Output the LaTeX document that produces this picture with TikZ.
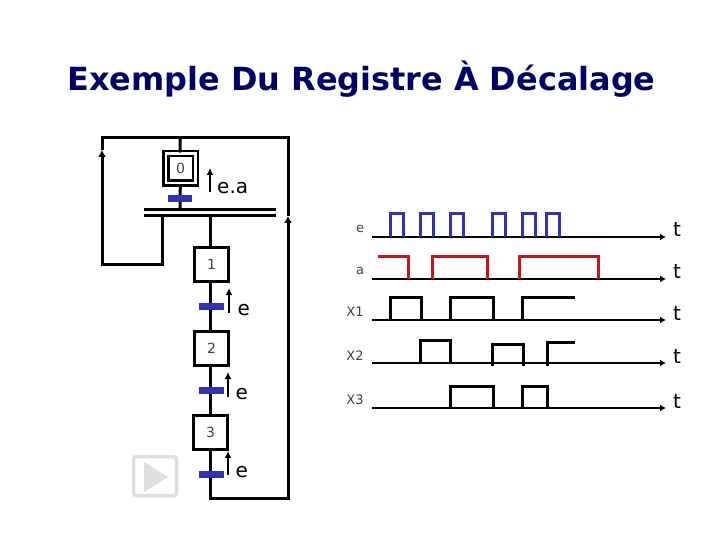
\documentclass[tikz,border=0pt]{standalone}
\usepackage{fontspec}
\setmainfont{DejaVu Sans}
\usetikzlibrary{calc,arrows.meta}
\definecolor{titleblue}{RGB}{0,0,102}
\definecolor{barblue}{RGB}{51,51,176}
\definecolor{sigred}{RGB}{204,20,28}
\definecolor{playgray}{RGB}{222,222,222}
\def\Pulse#1#2#3#4{%xup xdown ybase ytop
    (#1, #3) -- (#1, #4) -- (#2, #4) -- (#2, #3)
}
\tikzset{
    stepbox/.style={draw, line width=3pt, minimum size=34pt, inner sep=0, font=\fontsize{14}{16}\selectfont, text=black!75},
    bar/.style={fill=barblue, minimum width=24.5pt, minimum height=7pt, inner sep=0},
    link/.style={line width=3pt},
    linkhead/.style={line width=3pt, -{Latex[length=7pt, width=8pt]}},
    recep/.style={line width=2pt, -{Latex[length=7pt, width=7pt]}},
    axis/.style={line width=2pt, -{Latex[length=6pt, width=7pt]}},
    sig/.style={line width=3pt},
    siglabel/.style={font=\fontsize{13}{15}\selectfont, text=black!75},
    tlabel/.style={font=\fontsize{20}{24}\selectfont},
    condlabel/.style={font=\fontsize{20}{24}\selectfont, anchor=base west, inner sep=0}
}
\begin{document}
\begin{tikzpicture}[x=1pt, y=-1pt]
    \useasboundingbox (0, 0) rectangle (720, 540);
    \node[inner sep=0, text=titleblue, font=\bfseries\fontsize{31.9}{38}\selectfont] (title) at (361.5, 79) {Exemple Du Registre À Décalage};
    % steps
    \node[stepbox, line width=2.5pt, double, double distance=2.5pt, minimum size=29.5pt] (s0) at (180.5, 168.5) {0};
    \node[stepbox] (s1) at (211.5, 264.5) {1};
    \node[stepbox] (s2) at (211.5, 348.5) {2};
    \node[stepbox] (s3) at (210.5, 432.5) {3};
    % double bar and loops
    \coordinate (topL) at (102, 138);
    \coordinate (topR) at (288, 138);
    \coordinate (topM) at (180, 138);
    \coordinate (botL) at (102, 264);
    \coordinate (barUp) at (180, 210);
    \coordinate (barDownL) at (162, 216);
    \coordinate (barDownR) at (210, 216);
    \coordinate (endM) at (210, 498);
    \coordinate (endR) at (288, 498);
    \coordinate (headL) at (102, 150);
    \coordinate (headR) at (288, 216);
    \draw[line width=3pt] (144, 210) coordinate (b1L) -- (276, 210) coordinate (b1R);
    \draw[line width=3pt] (144, 216) coordinate (b2L) -- (276, 216) coordinate (b2R);
    \draw[link] (headR) -- (topR) -- (topL) -- (headL);
    \draw[link] (topM) -- (s0);
    \draw[link] (s0) -- (barUp);
    \draw[linkhead] (barDownL) |- (botL) -- (headL);
    \draw[link] (barDownR) -- (s1.north -| barDownR);
    \draw[link] (s1.south -| barDownR) -- (s2.north -| barDownR);
    \draw[link] (s2.south -| barDownR) -- (s3.north -| barDownR);
    \draw[linkhead] (s3.south -| endM) -- (endM) -- (endR) -- (headR);
    % transitions
    \node[bar] (t0) at (180, 198.5) {};
    \node[bar] (t1) at (211.5, 306.5) {};
    \node[bar] (t2) at (211.5, 390.5) {};
    \node[bar] (t3) at (211.5, 474.5) {};
    \draw[recep] (210, 192) coordinate (r0a) -- (210, 168) coordinate (r0b);
    \draw[recep] (229, 313) coordinate (r1a) -- (229, 288) coordinate (r1b);
    \draw[recep] (228, 397) coordinate (r2a) -- (228, 372) coordinate (r2b);
    \draw[recep] (228, 475) coordinate (r3a) -- (228, 451) coordinate (r3b);
    \node[condlabel] (c0) at (217, 194) {e.a};
    \node[condlabel] (c1) at (237.5, 315) {e};
    \node[condlabel] (c2) at (235.5, 399) {e};
    \node[condlabel] (c3) at (235.5, 477) {e};
    % play button
    \draw[playgray, line width=3.5pt, rounded corners=3pt] (133.5, 456.5) rectangle (176.5, 495.5);
    \fill[playgray] (144, 462) -- (168, 477) -- (144, 492) -- cycle;
    % chronogram
    \draw[axis] (372, 237) coordinate (axe) -- (666, 237) coordinate (axeEnd);
    \draw[axis] (372, 279) coordinate (axa) -- (666, 279) coordinate (axaEnd);
    \draw[axis] (372, 320) coordinate (ax1) -- (666, 320) coordinate (ax1End);
    \draw[axis] (372, 363) coordinate (ax2) -- (666, 363) coordinate (ax2End);
    \draw[axis] (372, 408) coordinate (ax3) -- (666, 408) coordinate (ax3End);
    \node[siglabel] (le) at (360, 229) {e};
    \node[siglabel] (la) at (360, 271) {a};
    \node[siglabel] (l1) at (355, 312) {X1};
    \node[siglabel] (l2) at (355, 356) {X2};
    \node[siglabel] (l3) at (355, 400) {X3};
    \node[tlabel] (te) at (677, 229) {t};
    \node[tlabel] (ta) at (677, 271) {t};
    \node[tlabel] (t1x) at (677, 313) {t};
    \node[tlabel] (t2x) at (677, 356) {t};
    \node[tlabel] (t3x) at (677, 401) {t};
    \foreach \up/\down in {390/403, 420/433, 450/463, 492/505, 522/535, 546/559}
        \draw[sig, barblue] \Pulse{\up}{\down}{237}{214};
    \draw[sig, sigred] (378, 256) -- (408, 256) -- (408, 279);
    \foreach \up/\down in {432/487, 519/598}
        \draw[sig, sigred] \Pulse{\up}{\down}{279}{256};
    \foreach \up/\down in {390/421, 450/493}
        \draw[sig] \Pulse{\up}{\down}{320}{297};
    \draw[sig] (522, 320) -- (522, 297) -- (575, 297);
    \draw[sig] \Pulse{420}{450}{363}{340};
    \draw[sig] \Pulse{492}{523}{366}{344};
    \draw[sig] (547, 366) -- (547, 342) -- (575, 342);
    \foreach \up/\down in {450/493, 522/547}
        \draw[sig] \Pulse{\up}{\down}{408}{386};
\end{tikzpicture}
\end{document}
